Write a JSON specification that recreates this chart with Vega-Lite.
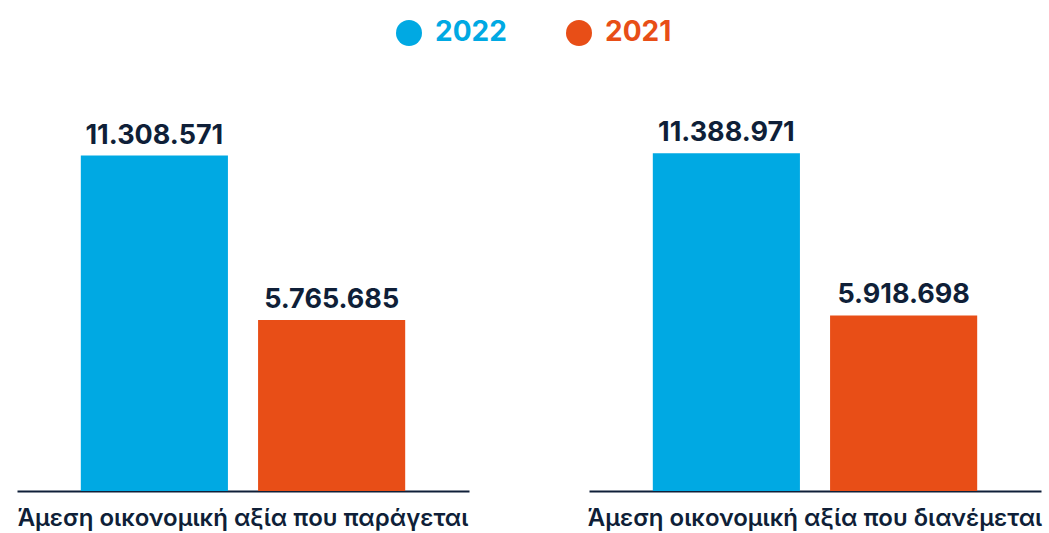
{
  "$schema": "https://vega.github.io/schema/vega-lite/v6.json",
  "padding": {"left": 17, "top": 19, "right": 5, "bottom": 3},
  "background": "white",
  "data": {"values": [
    {"category": "Άμεση οικονομική αξία που παράγεται", "year": "2022", "value": 11308571},
    {"category": "Άμεση οικονομική αξία που παράγεται", "year": "2021", "value": 5765685},
    {"category": "Άμεση οικονομική αξία που διανέμεται", "year": "2022", "value": 11388971},
    {"category": "Άμεση οικονομική αξία που διανέμεται", "year": "2021", "value": 5918698}
  ]},
  "facet": {
    "column": {
      "field": "category",
      "type": "nominal",
      "sort": ["Άμεση οικονομική αξία που παράγεται", "Άμεση οικονομική αξία που διανέμεται"],
      "title": null,
      "header": {
        "labelOrient": "bottom",
        "labelFont": "Inter",
        "labelFontSize": 24,
        "labelFontWeight": 600,
        "labelColor": "#0f1f38",
        "labelPadding": 16
      }
    }
  },
  "spacing": 120,
  "spec": {
    "width": 452,
    "height": 356,
    "encoding": {
      "x": {
        "field": "year",
        "type": "nominal",
        "sort": ["2022", "2021"],
        "scale": {"paddingInner": 0.17, "paddingOuter": 0.36},
        "axis": {"title": null, "labels": false, "ticks": false, "domain": true, "domainColor": "#0f1f38", "domainWidth": 2}
      },
      "y": {
        "field": "value",
        "type": "quantitative",
        "scale": {"domain": [0, 12000000]},
        "axis": null
      }
    },
    "layer": [
      {
        "mark": {"type": "bar"},
        "encoding": {
          "color": {
            "field": "year",
            "type": "nominal",
            "sort": ["2022", "2021"],
            "scale": {"domain": ["2022", "2021"], "range": ["#00a9e3", "#e84e17"]},
            "legend": {
              "title": null,
              "orient": "none",
              "direction": "horizontal",
              "legendX": 378,
              "legendY": -116,
              "symbolType": "circle",
              "symbolSize": 676,
              "symbolStrokeWidth": 0,
              "labelFont": "Inter",
              "labelFontSize": 28,
              "labelFontWeight": "bold",
              "labelOffset": 12,
              "columnPadding": 58,
              "labelColor": {"expr": "datum.value === '2022' ? '#00a9e3' : '#e84e17'"}
            }
          }
        }
      },
      {
        "mark": {"type": "text", "baseline": "alphabetic", "dy": -12, "font": "Inter", "fontSize": 27, "fontWeight": "bold", "color": "#0f1f38"},
        "encoding": {
          "text": {"field": "value", "type": "quantitative", "format": ",d"}
        }
      }
    ]
  },
  "config": {
    "view": {"stroke": null},
    "locale": {"number": {"decimal": ",", "thousands": ".", "grouping": [3], "currency": ["", " €"]}}
  }
}
